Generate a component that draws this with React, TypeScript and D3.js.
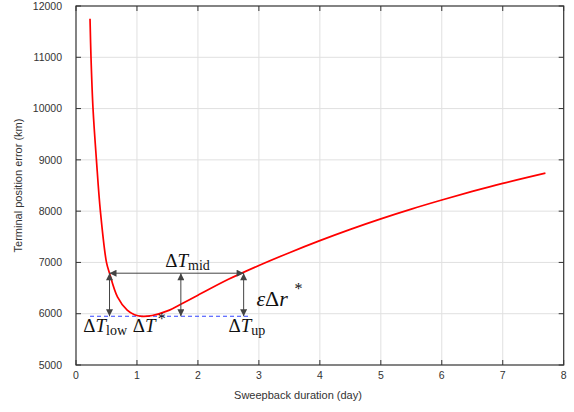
import React from "react";
import * as d3 from "d3";

// Terminal position error versus sweepback duration
const durationDays = [0.23, 0.246, 0.279, 0.335, 0.4, 0.5, 0.55, 0.68, 0.84, 0.96, 1.08, 1.25, 1.5, 1.75, 2.0, 2.5, 3.0, 3.5, 4.0, 4.5, 5.0, 5.5, 6.0, 6.5, 7.0, 7.7];
const positionErrorKm = [11750, 11000, 10000, 9000, 8000, 7000, 6790, 6330, 6070, 5980, 5950, 5965, 6055, 6205, 6360, 6670, 6940, 7190, 7425, 7645, 7850, 8040, 8217, 8385, 8542, 8742];

const xTicks = [0, 1, 2, 3, 4, 5, 6, 7, 8];
const yTicks = [5000, 6000, 7000, 8000, 9000, 10000, 11000, 12000];

// Optimum level and tolerance band
const minErrorKm = 5950;
const toleranceLevelKm = 6790;
const dashedSpan = [0.23, 2.85];
const bandBounds = [0.55, 2.75]; // ΔT_low, ΔT_up
const midDuration = 1.72;

const W = 574;
const H = 412;
const M = { left: 76, right: 10.3, top: 6, bottom: 47 };

export default function App() {
  const x = d3.scaleLinear().domain([0, 8]).range([M.left, W - M.right]);
  const y = d3.scaleLinear().domain([5000, 12000]).range([H - M.bottom, M.top]);
  const line = d3
    .line<number>()
    .x((_, i) => x(durationDays[i]))
    .y((d) => y(d))
    .curve(d3.curveCatmullRom.alpha(0.5));

  const x0 = x.range()[0];
  const x1 = x.range()[1];
  const y0 = y.range()[0];
  const y1 = y.range()[1];
  const axisColor = "#333";
  const tickLen = 5;
  const arrowColor = "#444";
  const serif = "'Liberation Serif', 'Times New Roman', serif";
  const sans = "'Liberation Sans', Arial, Helvetica, sans-serif";

  const vArrowXs = [bandBounds[0], midDuration, bandBounds[1]];

  return (
    <svg
      width={W}
      height={H}
      style={{ position: "absolute", left: 0, top: 0, background: "#fff" }}
      fontFamily={sans}
    >
      <defs>
        <marker id="ah" viewBox="0 0 10 10" refX="10" refY="5" markerWidth="9" markerHeight="7" markerUnits="userSpaceOnUse" orient="auto-start-reverse">
          <path d="M0,0 L10,5 L0,10 z" fill={arrowColor} />
        </marker>
      </defs>

      {/* grid */}
      {xTicks.slice(1, -1).map((t) => (
        <line key={"gx" + t} x1={x(t)} x2={x(t)} y1={y0} y2={y1} stroke="#e0e0e0" strokeWidth={1} />
      ))}
      {yTicks.slice(1, -1).map((t) => (
        <line key={"gy" + t} x1={x0} x2={x1} y1={y(t)} y2={y(t)} stroke="#e0e0e0" strokeWidth={1} />
      ))}

      {/* ticks on all four sides, pointing inward */}
      {xTicks.map((t) => (
        <g key={"tx" + t}>
          <line x1={x(t)} x2={x(t)} y1={y0} y2={y0 - tickLen} stroke={axisColor} />
          <line x1={x(t)} x2={x(t)} y1={y1} y2={y1 + tickLen} stroke={axisColor} />
          <text x={x(t)} y={y0 + 14} textAnchor="middle" fontSize={10.5} fill="#333">
            {t}
          </text>
        </g>
      ))}
      {yTicks.map((t) => (
        <g key={"ty" + t}>
          <line x1={x0} x2={x0 + tickLen} y1={y(t)} y2={y(t)} stroke={axisColor} />
          <line x1={x1} x2={x1 - tickLen} y1={y(t)} y2={y(t)} stroke={axisColor} />
          <text x={x0 - 14} y={y(t)} dy="0.35em" textAnchor="end" fontSize={10.5} fill="#333">
            {t}
          </text>
        </g>
      ))}

      {/* frame */}
      <rect x={x0} y={y1} width={x1 - x0} height={y0 - y1} fill="none" stroke={axisColor} strokeWidth={1.2} />

      {/* axis titles */}
      <text x={298} y={399} textAnchor="middle" fontSize={11} fill="#333">
        Sweepback duration (day)
      </text>
      <text transform={`translate(22,${(y0 + y1) / 2}) rotate(-90)`} textAnchor="middle" fontSize={11} fill="#333">
        Terminal position error (km)
      </text>

      {/* minimum level */}
      <line
        x1={x(dashedSpan[0])}
        x2={x(dashedSpan[1])}
        y1={y(minErrorKm)}
        y2={y(minErrorKm)}
        stroke="#3344ff"
        strokeWidth={1.1}
        strokeDasharray="4,3"
      />

      {/* error curve */}
      <path d={line(positionErrorKm) ?? ""} fill="none" stroke="#ff0000" strokeWidth={1.7} />

      {/* tolerance arrows */}
      <line
        x1={x(bandBounds[0])}
        x2={x(bandBounds[1])}
        y1={y(toleranceLevelKm)}
        y2={y(toleranceLevelKm)}
        stroke={arrowColor}
        strokeWidth={1}
        markerStart="url(#ah)"
        markerEnd="url(#ah)"
      />
      {vArrowXs.map((d) => (
        <line
          key={"va" + d}
          x1={x(d)}
          x2={x(d)}
          y1={y(toleranceLevelKm)}
          y2={y(minErrorKm)}
          stroke={arrowColor}
          strokeWidth={1}
          markerStart="url(#ah)"
          markerEnd="url(#ah)"
        />
      ))}

      {/* annotations */}
      <g fontFamily={serif} fill="#111">
        <text x={x(1.464)} y={y(6917)} fontSize={19}>
          Δ<tspan fontStyle="italic">T</tspan>
          <tspan fontSize={14} dy={3}>mid</tspan>
        </text>
        <text x={x(0.12)} y={y(5650)} fontSize={19}>
          Δ<tspan fontStyle="italic">T</tspan>
          <tspan fontSize={14} dy={3}>low</tspan>
        </text>
        <text x={x(0.93)} y={y(5650)} fontSize={19}>
          Δ<tspan fontStyle="italic">T</tspan>
        </text>
        <text x={x(0.93) + 25} y={y(5650) - 8} fontSize={16}>
          *
        </text>
        <text x={x(2.5)} y={y(5650)} fontSize={19}>
          Δ<tspan fontStyle="italic">T</tspan>
          <tspan fontSize={14} dy={3}>up</tspan>
        </text>
        <text x={x(2.96)} y={y(6157)} fontSize={22}>
          <tspan fontStyle="italic">ε</tspan>Δ<tspan fontStyle="italic">r</tspan>
        </text>
        <text x={x(2.96) + 38} y={y(6157) - 12} fontSize={16}>
          *
        </text>
      </g>
    </svg>
  );
}
